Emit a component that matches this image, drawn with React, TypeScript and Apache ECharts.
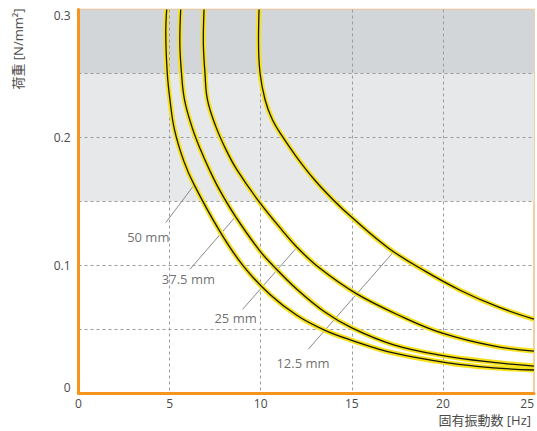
import React, { useEffect, useRef } from "react";
import * as echarts from "echarts";

// ---- data ----
const xTitle = "固有振動数 [Hz]";
const yTitle = "荷重 [N/mm²]";
const curveNames = ["50 mm", "37.5 mm", "25 mm", "12.5 mm"];

const curve50: [number, number][] = [
  [4.84, 0.3], [4.79, 0.282], [4.87, 0.2507], [5.02, 0.2293], [5.27, 0.2059],
  [5.79, 0.181], [6.35, 0.1628], [7.71, 0.1276], [9.03, 0.0996], [10.51, 0.077],
  [12.0, 0.0606], [13.53, 0.049], [15.0, 0.0412], [17.28, 0.0313], [20.39, 0.0233],
  [22.77, 0.0197], [25.0, 0.018],
];
const curve375: [number, number][] = [
  [5.61, 0.3], [5.56, 0.2763], [5.65, 0.2507], [5.82, 0.2293], [6.23, 0.208],
  [6.7, 0.1902], [7.19, 0.1745], [7.74, 0.1589], [8.62, 0.138], [9.91, 0.1119],
  [10.68, 0.0996], [12.0, 0.081], [13.5, 0.0636], [15.0, 0.051], [17.3, 0.0377],
  [20.0, 0.0293], [22.77, 0.024], [25.0, 0.0211],
];
const curve25: [number, number][] = [
  [6.89, 0.3], [6.85, 0.2763], [6.94, 0.2507], [7.08, 0.2293], [7.55, 0.208],
  [8.1, 0.1902], [8.7, 0.1745], [9.91, 0.1497], [11.22, 0.1265], [11.99, 0.114],
  [13.25, 0.0975], [15.27, 0.0775], [17.83, 0.0592], [19.97, 0.0468], [22.77, 0.0368],
  [25.0, 0.0328],
];
const curve125: [number, number][] = [
  [9.91, 0.3], [9.88, 0.2763], [9.96, 0.2507], [10.24, 0.2294], [10.65, 0.2135],
  [11.2, 0.2005], [12.0, 0.184], [13.0, 0.166], [14.0, 0.1508], [15.0, 0.1374],
  [17.0, 0.1135], [19.0, 0.0955], [21.0, 0.08], [23.0, 0.0675], [25.0, 0.0577],
];
const curves = [curve50, curve375, curve25, curve125];

// leader lines (from label to curve) and label anchor points
const leaders: [number, number][][] = [
  [[4.79, 0.1333], [6.35, 0.1628]],
  [[6.12, 0.0968], [8.62, 0.138]],
  [[9.01, 0.0655], [11.99, 0.114]],
  [[12.61, 0.0342], [17.28, 0.1102]],
];
const labelPoints: [number, number][] = [
  [3.83, 0.1219],
  [6.03, 0.089],
  [8.62, 0.0585],
  [12.32, 0.0237],
];

const FONT = '"Open Sans", "Noto Sans CJK JP", sans-serif';

export default function App() {
  const ref = useRef<HTMLDivElement>(null);
  useEffect(() => {
    document.body.style.margin = "0";
    const chart = echarts.init(ref.current!, null, { renderer: "svg" });

    const series: any[] = [];
    curves.forEach((c, i) => {
      series.push({
        type: "line",
        name: curveNames[i] + "-bg",
        data: c,
        smooth: 0.4,
        symbol: "none",
        silent: true,
        z: 3,
        lineStyle: { color: "#f7e21a", width: 5 },
      });
      series.push({
        type: "line",
        name: curveNames[i],
        data: c,
        smooth: 0.4,
        symbol: "none",
        silent: true,
        z: 4,
        lineStyle: { color: "#151515", width: 1.3 },
      });
    });
    leaders.forEach((l) => {
      series.push({
        type: "line",
        data: l,
        symbol: "none",
        silent: true,
        z: 2,
        lineStyle: { color: "#8a8a8a", width: 1 },
      });
    });
    series.push({
      type: "scatter",
      data: labelPoints.map((p, i) => ({ value: p, name: curveNames[i] })),
      symbolSize: 1,
      itemStyle: { color: "rgba(0,0,0,0)" },
      silent: true,
      z: 5,
      label: {
        show: true,
        position: "inside",
        formatter: (p: any) => p.name,
        color: "#4a4a4a",
        fontSize: 13,
        fontFamily: FONT,
      },
    });

    chart.setOption({
      animation: false,
      grid: {
        left: 78.5,
        right: 3,
        top: 9.5,
        bottom: 38,
        show: true,
        borderColor: "#f6bd84",
        borderWidth: 1.5,
        backgroundColor: "rgba(0,0,0,0)",
      },
      xAxis: {
        type: "value",
        min: 0,
        max: 25,
        interval: 5,
        axisLine: { show: true, onZero: false, lineStyle: { color: "#f7941d", width: 3 } },
        axisTick: { show: false },
        axisLabel: {
          color: "#4a4a4a",
          fontSize: 12,
          fontFamily: FONT,
          margin: 4,
          alignMaxLabel: "right",
        },
        splitLine: {
          show: true,
          showMinLine: false,
          showMaxLine: false,
          lineStyle: { color: "#9c9c9c", type: [3, 3], width: 1 },
        },
      },
      yAxis: {
        type: "value",
        min: 0,
        max: 0.3,
        interval: 0.05,
        axisLine: { show: true, onZero: false, lineStyle: { color: "#f7941d", width: 3 } },
        axisTick: { show: false },
        axisLabel: {
          color: "#4a4a4a",
          fontSize: 12,
          fontFamily: FONT,
          margin: 8,
          verticalAlignMaxLabel: "top",
          verticalAlignMinLabel: "bottom",
          formatter: (v: number) => {
            const r = Math.round(v * 100);
            if (r % 10 !== 0) return "";
            return r === 0 ? "0" : (r / 100).toFixed(1);
          },
        },
        splitLine: {
          show: true,
          showMinLine: false,
          showMaxLine: false,
          lineStyle: { color: "#9c9c9c", type: [3, 3], width: 1 },
        },
        splitArea: {
          show: true,
          areaStyle: {
            color: [
              "rgba(0,0,0,0)",
              "rgba(0,0,0,0)",
              "rgba(0,0,0,0)",
              "#e6e8ea",
              "#e6e8ea",
              "#d3d6d9",
            ],
          },
        },
      },
      graphic: [
        {
          type: "text",
          x: 18,
          y: 49,
          rotation: Math.PI / 2,
          style: {
            text: yTitle,
            fill: "#4a4a4a",
            fontSize: 13,
            fontFamily: FONT,
            align: "center",
            verticalAlign: "middle",
          },
        },
        {
          type: "text",
          x: 531,
          y: 420,
          style: {
            text: xTitle,
            fill: "#4a4a4a",
            fontSize: 13,
            fontFamily: FONT,
            align: "right",
            verticalAlign: "middle",
          },
        },
      ],
      series,
    });
    return () => chart.dispose();
  }, []);
  return <div ref={ref} style={{ width: 537, height: 431 }} />;
}
